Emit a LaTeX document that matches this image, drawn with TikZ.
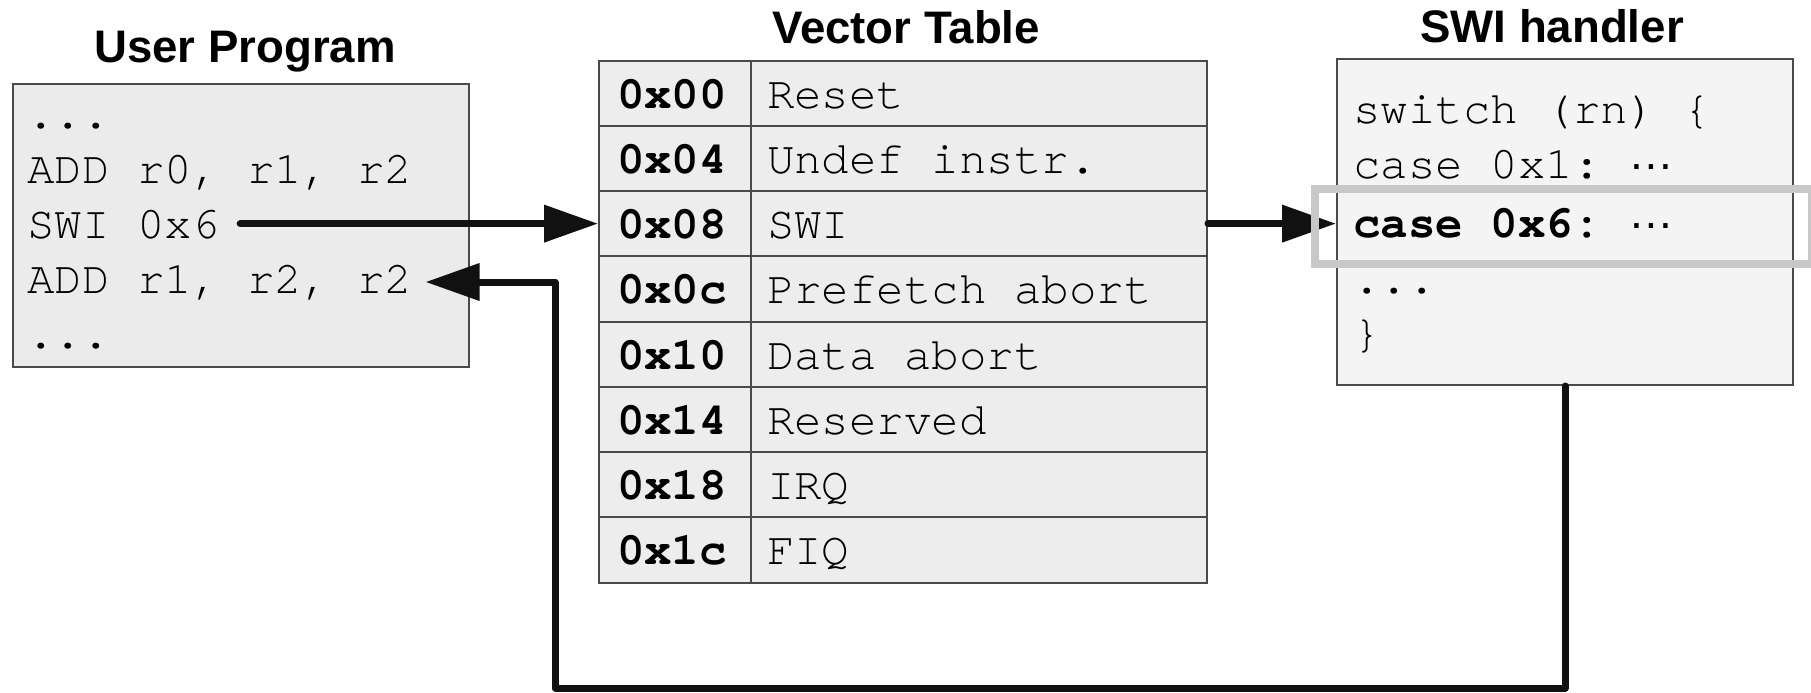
\documentclass[tikz,border=0pt]{standalone}
\usepackage{fontspec}
\setmainfont{Liberation Sans}
\setmonofont{texgyrecursor}[Extension=.otf, UprightFont=*-regular, BoldFont=*-bold]
\usetikzlibrary{arrows.meta, positioning}
\definecolor{userfill}{HTML}{EBEBEB}
\definecolor{tablefill}{HTML}{EDEDED}
\definecolor{handlerfill}{HTML}{F4F4F4}
\definecolor{edgecol}{HTML}{4A4A4A}
\definecolor{hilitecol}{HTML}{C8C8C8}
\definecolor{flowcol}{HTML}{111111}
\newcommand{\casedots}{\raisebox{4.5pt}{\rmfamily\mdseries …}}

\begin{document}
\begin{tikzpicture}[
  x=0.5pt, y=-0.5pt,
  >={Triangle[length=27pt, width=18pt]},
  title/.style={font=\fontsize{22.8}{26}\selectfont\bfseries, inner sep=0pt, anchor=base},
  panel/.style={draw=edgecol, line width=1pt, anchor=north west, inner sep=0pt,
                minimum width=228pt},
  code/.style={font=\fontsize{22.9}{27}\selectfont\ttfamily, inner sep=0pt, anchor=base west},
  cell/.style={draw=edgecol, fill=tablefill, line width=1pt, anchor=west,
               minimum height=32.625pt, text height=15pt, text depth=0pt,
               font=\fontsize{22.9}{27}\selectfont\ttfamily},
  addrcell/.style={cell, inner xsep=9pt, font=\fontsize{22.9}{27}\selectfont\ttfamily\bfseries},
  desccell/.style={cell, inner xsep=8pt},
  flow/.style={->, draw=flowcol, line width=3.5pt, line cap=round, line join=round},
  hilite/.style={draw=hilitecol, line width=4pt}
]
  \useasboundingbox (0,0) rectangle (1811,692);

  % titles
  \node[title] (uptitle) at (245,62) {User Program};
  \node[title] (vttitle) at (906,43) {Vector Table};
  \node[title] (hdtitle) at (1552,42) {SWI handler};

  % user program
  \node[panel, fill=userfill, minimum height=141.5pt] (upbox) at (12,83) {};
  \node[code] (updots1) at (27,128) {...};
  \node[code] (upadd) at (27,183) {ADD r0, r1, r2};
  \node[code] (upswi) at (27,238) {SWI 0x6};
  \node[code] (upret) at (27,293) {ADD r1, r2, r2};
  \node[code] (updots2) at (27,348) {...};

  % vector table
  \foreach \code/\desc [count=\i from 0] in
      {00/Reset, 04/Undef instr., 08/SWI, 0c/Prefetch abort,
       10/Data abort, 14/Reserved, 18/IRQ, 1c/FIQ} {
    \node[addrcell] (addr\code) at (598,{93.125+65.25*\i}) {\makebox[58pt][l]{0x\code}};
    \node[desccell] (desc\code) at (750,{93.125+65.25*\i}) {\makebox[212pt][l]{\desc}};
  }

  % swi handler
  \node[panel, fill=handlerfill, minimum height=163pt] (hbox) at (1336,58) {};
  \node[code] (hswitch) at (1353,123) {switch (rn) \{};
  \node[code] (hcase1) at (1353,178) {case 0x1: \casedots};
  \node[code, font=\fontsize{22.9}{27}\selectfont\ttfamily\bfseries] (hcase6) at (1353,237) {case 0x6: \casedots};
  \node[code] (hdots) at (1353,293) {...};
  \node[code] (hclose) at (1353,347) {\}};

  % control flow
  \coordinate (bend) at (555,688);
  \draw[flow] ([xshift=10pt]upswi.east |- addr08.west) -- (addr08.west);
  \draw[flow] (desc08.east) -- (desc08.east -| hbox.west);
  \draw[flow] (hbox.south) |- (bend) |- ([xshift=6.5pt, yshift=5.5pt]upret.base east);

  % selected case
  \draw[hilite] (1315,189) rectangle (1812,264);
\end{tikzpicture}
\end{document}
